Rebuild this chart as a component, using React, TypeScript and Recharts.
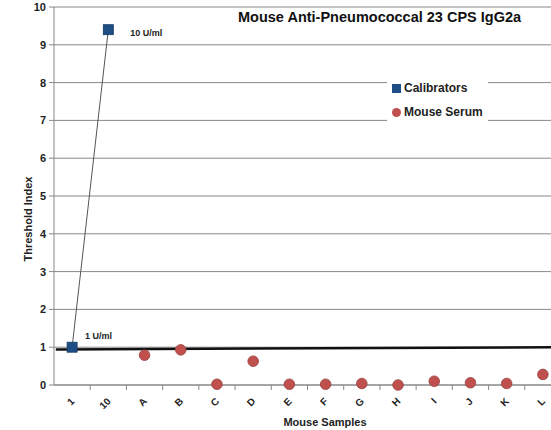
import {
  ComposedChart,
  Scatter,
  XAxis,
  YAxis,
  CartesianGrid,
  ReferenceLine,
  LabelList
} from 'recharts'

// Categories along the x axis
const categories = ['1', '10', 'A', 'B', 'C', 'D', 'E', 'F', 'G', 'H', 'I', 'J', 'K', 'L']

// Calibrators (blue squares)
const calibratorCategories = ['1', '10']
const calibratorValues = [1.0, 9.4]
const calibratorLabels = ['1 U/ml', '10 U/ml']

// Mouse serum samples (red circles)
const serumCategories = ['A', 'B', 'C', 'D', 'E', 'F', 'G', 'H', 'I', 'J', 'K', 'L']
const serumValues = [0.79, 0.93, 0.02, 0.63, 0.02, 0.02, 0.04, 0.0, 0.1, 0.06, 0.04, 0.28]

// Threshold line (start / end values)
const thresholdStart = 0.94
const thresholdEnd = 1.0

const yTicks = [0, 1, 2, 3, 4, 5, 6, 7, 8, 9, 10]

const BLUE = '#1f4e85'
const RED = '#c0504d'
const GRID = '#888888'
const FONT = 'Arial, "Liberation Sans", sans-serif'

const calibratorData = calibratorCategories.map((c, i) => ({
  x: categories.indexOf(c) + 1,
  y: calibratorValues[i],
  label: calibratorLabels[i]
}))

const serumData = serumCategories.map((c, i) => ({
  x: categories.indexOf(c) + 1,
  y: serumValues[i]
}))

const xTicks = categories.map((_, i) => i + 1)

const SquareShape = (props: any) => {
  const { cx, cy } = props
  if (cx == null || cy == null) return null
  const s = 10
  return <rect x={cx - s / 2} y={cy - s / 2} width={s} height={s} fill={BLUE} stroke="#163a64" strokeWidth={0.8} />
}

const CircleShape = (props: any) => {
  const { cx, cy } = props
  if (cx == null || cy == null) return null
  return <circle cx={cx} cy={cy} r={5.3} fill={RED} stroke="#94403d" strokeWidth={0.8} />
}

// Label text beside each calibrator point
const CalibratorLabel = (props: any) => {
  const { x, y, width, height, value, index } = props
  const cx = x + width / 2
  const cy = y + height / 2
  const offsets = [
    { dx: 13, dy: -11 },
    { dx: 22, dy: 4 }
  ]
  const o = offsets[index] || { dx: 10, dy: 0 }
  return (
    <text x={cx + o.dx} y={cy + o.dy} fontSize={9} fontWeight="bold" fontFamily={FONT} fill="#222" dominantBaseline="middle">
      {value}
    </text>
  )
}

// X tick: rotated label at the category centre plus a tick mark at the right boundary
const XTick = (props: any) => {
  const { x, y, payload } = props
  const step = 36.2
  const label = categories[payload.value - 1]
  return (
    <g>
      <line x1={x + step / 2} y1={y - 8} x2={x + step / 2} y2={y - 3} stroke={GRID} strokeWidth={1} />
      <text
        x={x + 3}
        y={y + 9}
        transform={`rotate(-45, ${x + 3}, ${y + 9})`}
        textAnchor="end"
        fontSize={10}
        fontWeight="bold"
        fontFamily={FONT}
        fill="#222"
      >
        {label}
      </text>
    </g>
  )
}

const LegendBox = () => (
  <div
    style={{
      position: 'absolute',
      left: 387,
      top: 74,
      background: '#fff',
      width: 101,
      height: 48,
      fontFamily: FONT,
      fontWeight: 'bold',
      fontSize: 12,
      color: '#222',
      boxSizing: 'border-box',
      paddingLeft: 5
    }}
  >
    <div style={{ display: 'flex', alignItems: 'center', height: 24, paddingTop: 2 }}>
      <span style={{ display: 'inline-block', width: 9, height: 9, background: BLUE, marginRight: 3 }} />
      Calibrators
    </div>
    <div style={{ display: 'flex', alignItems: 'center', height: 24 }}>
      <span style={{ display: 'inline-block', width: 9, height: 9, borderRadius: '50%', background: RED, marginRight: 3 }} />
      Mouse Serum
    </div>
  </div>
)

export default function App() {
  return (
    <div style={{ position: 'absolute', left: 0, top: 0, width: 551, height: 430, overflow: 'hidden', background: '#fff' }}>
      <ComposedChart width={561} height={430} margin={{ top: 7, right: 0, left: 0, bottom: 0 }}>
        <CartesianGrid horizontal vertical={false} stroke={GRID} strokeWidth={1} />
        <XAxis
          type="number"
          dataKey="x"
          domain={[0.5, 14.5]}
          ticks={xTicks}
          interval={0}
          height={45}
          axisLine={{ stroke: GRID }}
          tickLine={false}
          tick={<XTick />}
          allowDataOverflow
        />
        <YAxis
          type="number"
          dataKey="y"
          domain={[0, 10]}
          ticks={yTicks}
          width={54}
          axisLine={{ stroke: GRID }}
          tickLine={{ stroke: GRID }}
          tickSize={5}
          tickMargin={3}
          tick={{ fontSize: 11, fontWeight: 'bold', fill: '#222', fontFamily: FONT }}
          label={{
            value: 'Threshold Index',
            angle: -90,
            position: 'center',
            dx: 1,
            dy: 23,
            style: { fontSize: 11, fontWeight: 'bold', fill: '#222', fontFamily: FONT, textAnchor: 'middle' }
          }}
        />
        <ReferenceLine
          segment={[
            { x: 0.55, y: thresholdStart },
            { x: 14.5, y: thresholdEnd }
          ]}
          stroke="#111"
          strokeWidth={2.5}
          ifOverflow="extendDomain"
        />
        <Scatter
          name="Calibrators"
          data={calibratorData}
          shape={<SquareShape />}
          line={{ stroke: '#555', strokeWidth: 1 }}
          isAnimationActive={false}
        >
          <LabelList dataKey="label" content={<CalibratorLabel />} />
        </Scatter>
        <Scatter name="Mouse Serum" data={serumData} shape={<CircleShape />} isAnimationActive={false} />
        <text x={238} y={18} fontSize={14.5} fontWeight="bold" fontFamily={FONT} fill="#111" dominantBaseline="middle">
          Mouse Anti-Pneumococcal 23 CPS IgG2a
        </text>
        <text x={325} y={426} fontSize={11} fontWeight="bold" fontFamily={FONT} fill="#222" textAnchor="middle">
          Mouse Samples
        </text>
      </ComposedChart>
      <LegendBox />
    </div>
  )
}
